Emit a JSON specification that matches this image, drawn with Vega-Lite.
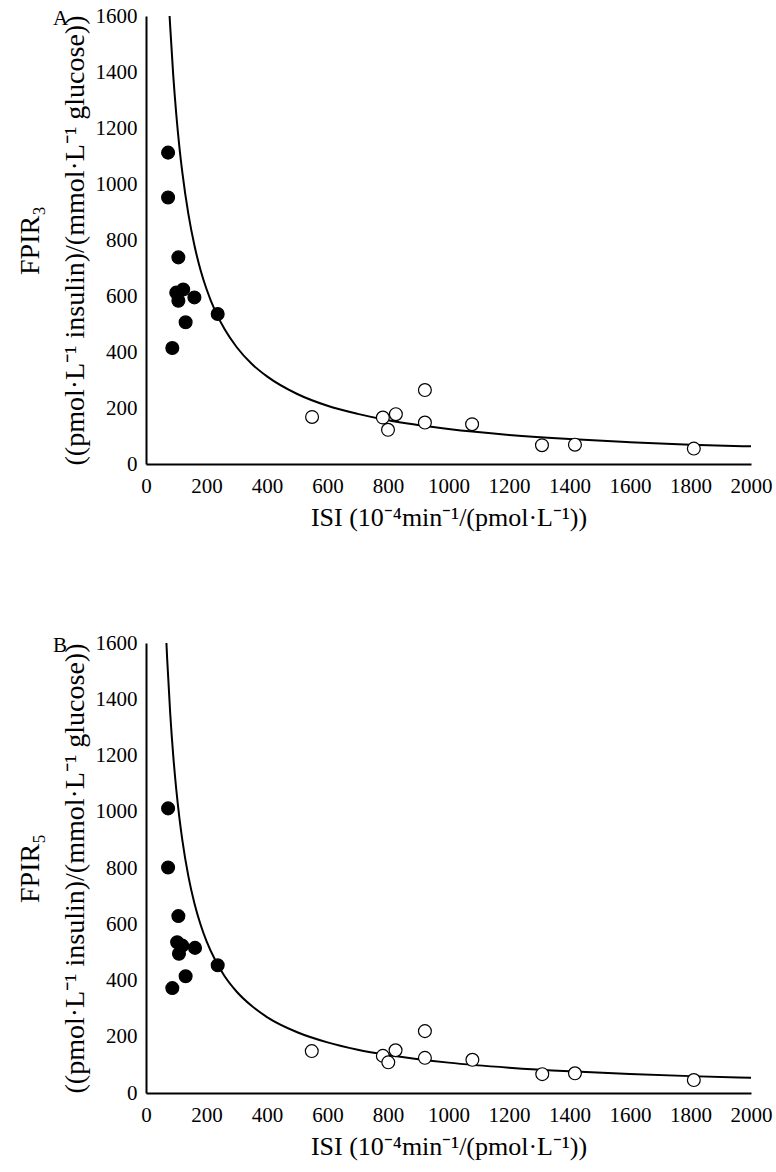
{
  "$schema": "https://vega.github.io/schema/vega-lite/v6.json",
  "background": "white",
  "padding": {"left": 16, "top": 5, "right": 5, "bottom": 5},
  "spacing": 102,
  "config": {
    "font": "Liberation Serif",
    "view": {"stroke": null},
    "axis": {
      "grid": false,
      "ticks": false,
      "tickSize": 0,
      "domainColor": "black",
      "domainWidth": 2,
      "labelColor": "black",
      "labelFontSize": 21,
      "labelFont": "Liberation Serif",
      "labelOverlap": false,
      "labelBound": false,
      "labelFlush": false,
      "format": "d",
      "titleFont": "Liberation Serif",
      "titleFontWeight": "normal",
      "titleColor": "black"
    },
    "title": {"font": "Liberation Serif", "fontSize": 21, "fontWeight": "normal", "color": "black"}
  },
  "datasets": {
    "pts": [
      {"panel": "A", "group": "low", "isi": 73, "fpir": 1112},
      {"panel": "A", "group": "low", "isi": 73, "fpir": 952},
      {"panel": "A", "group": "low", "isi": 107, "fpir": 738},
      {"panel": "A", "group": "low", "isi": 123, "fpir": 623},
      {"panel": "A", "group": "low", "isi": 100, "fpir": 612},
      {"panel": "A", "group": "low", "isi": 107, "fpir": 583},
      {"panel": "A", "group": "low", "isi": 160, "fpir": 595},
      {"panel": "A", "group": "low", "isi": 131, "fpir": 506},
      {"panel": "A", "group": "low", "isi": 87, "fpir": 414},
      {"panel": "A", "group": "low", "isi": 237, "fpir": 536},
      {"panel": "A", "group": "high", "isi": 549, "fpir": 168},
      {"panel": "A", "group": "high", "isi": 783, "fpir": 166},
      {"panel": "A", "group": "high", "isi": 800, "fpir": 122},
      {"panel": "A", "group": "high", "isi": 826, "fpir": 178},
      {"panel": "A", "group": "high", "isi": 922, "fpir": 264},
      {"panel": "A", "group": "high", "isi": 922, "fpir": 148},
      {"panel": "A", "group": "high", "isi": 1078, "fpir": 142},
      {"panel": "A", "group": "high", "isi": 1309, "fpir": 67},
      {"panel": "A", "group": "high", "isi": 1418, "fpir": 69},
      {"panel": "A", "group": "high", "isi": 1811, "fpir": 55},
      {"panel": "B", "group": "low", "isi": 73, "fpir": 1012},
      {"panel": "B", "group": "low", "isi": 73, "fpir": 802},
      {"panel": "B", "group": "low", "isi": 107, "fpir": 629},
      {"panel": "B", "group": "low", "isi": 103, "fpir": 536},
      {"panel": "B", "group": "low", "isi": 120, "fpir": 524},
      {"panel": "B", "group": "low", "isi": 162, "fpir": 516},
      {"panel": "B", "group": "low", "isi": 109, "fpir": 495},
      {"panel": "B", "group": "low", "isi": 131, "fpir": 415},
      {"panel": "B", "group": "low", "isi": 87, "fpir": 373},
      {"panel": "B", "group": "low", "isi": 237, "fpir": 454},
      {"panel": "B", "group": "high", "isi": 548, "fpir": 149},
      {"panel": "B", "group": "high", "isi": 783, "fpir": 132},
      {"panel": "B", "group": "high", "isi": 801, "fpir": 109},
      {"panel": "B", "group": "high", "isi": 825, "fpir": 152},
      {"panel": "B", "group": "high", "isi": 922, "fpir": 220},
      {"panel": "B", "group": "high", "isi": 922, "fpir": 125},
      {"panel": "B", "group": "high", "isi": 1079, "fpir": 118},
      {"panel": "B", "group": "high", "isi": 1310, "fpir": 67},
      {"panel": "B", "group": "high", "isi": 1418, "fpir": 70},
      {"panel": "B", "group": "high", "isi": 1811, "fpir": 46}
    ],
    "fit": [
      {"panel": "A", "isi": 78, "fpir": 1600},
      {"panel": "A", "isi": 80, "fpir": 1562},
      {"panel": "A", "isi": 90, "fpir": 1389},
      {"panel": "A", "isi": 100, "fpir": 1250},
      {"panel": "A", "isi": 110, "fpir": 1136},
      {"panel": "A", "isi": 120, "fpir": 1042},
      {"panel": "A", "isi": 140, "fpir": 893},
      {"panel": "A", "isi": 160, "fpir": 781},
      {"panel": "A", "isi": 180, "fpir": 694},
      {"panel": "A", "isi": 200, "fpir": 625},
      {"panel": "A", "isi": 230, "fpir": 543},
      {"panel": "A", "isi": 260, "fpir": 481},
      {"panel": "A", "isi": 300, "fpir": 417},
      {"panel": "A", "isi": 350, "fpir": 357},
      {"panel": "A", "isi": 400, "fpir": 313},
      {"panel": "A", "isi": 500, "fpir": 250},
      {"panel": "A", "isi": 600, "fpir": 208},
      {"panel": "A", "isi": 700, "fpir": 179},
      {"panel": "A", "isi": 800, "fpir": 156},
      {"panel": "A", "isi": 1000, "fpir": 125},
      {"panel": "A", "isi": 1200, "fpir": 104},
      {"panel": "A", "isi": 1400, "fpir": 89},
      {"panel": "A", "isi": 1600, "fpir": 78},
      {"panel": "A", "isi": 1800, "fpir": 69},
      {"panel": "A", "isi": 2000, "fpir": 63},
      {"panel": "B", "isi": 67.5, "fpir": 1600},
      {"panel": "B", "isi": 70, "fpir": 1543},
      {"panel": "B", "isi": 80, "fpir": 1350},
      {"panel": "B", "isi": 90, "fpir": 1200},
      {"panel": "B", "isi": 100, "fpir": 1080},
      {"panel": "B", "isi": 110, "fpir": 982},
      {"panel": "B", "isi": 120, "fpir": 900},
      {"panel": "B", "isi": 140, "fpir": 771},
      {"panel": "B", "isi": 160, "fpir": 675},
      {"panel": "B", "isi": 180, "fpir": 600},
      {"panel": "B", "isi": 200, "fpir": 540},
      {"panel": "B", "isi": 230, "fpir": 470},
      {"panel": "B", "isi": 260, "fpir": 415},
      {"panel": "B", "isi": 300, "fpir": 360},
      {"panel": "B", "isi": 350, "fpir": 309},
      {"panel": "B", "isi": 400, "fpir": 270},
      {"panel": "B", "isi": 500, "fpir": 216},
      {"panel": "B", "isi": 600, "fpir": 180},
      {"panel": "B", "isi": 700, "fpir": 154},
      {"panel": "B", "isi": 800, "fpir": 135},
      {"panel": "B", "isi": 1000, "fpir": 108},
      {"panel": "B", "isi": 1200, "fpir": 90},
      {"panel": "B", "isi": 1400, "fpir": 77},
      {"panel": "B", "isi": 1600, "fpir": 67.5},
      {"panel": "B", "isi": 1800, "fpir": 60},
      {"panel": "B", "isi": 2000, "fpir": 54}
    ]
  },
  "vconcat": [
    {
      "width": 605,
      "height": 448,
      "title": {"text": "A", "anchor": "start", "frame": "group", "orient": "top", "offset": -24, "dx": -93},
      "layer": [
        {
          "data": {"name": "fit"},
          "transform": [{"filter": "datum.panel === 'A'"}],
          "mark": {"type": "line", "color": "black", "strokeWidth": 2, "interpolate": "monotone"},
          "encoding": {
            "x": {"field": "isi", "type": "quantitative", "scale": {"domain": [0, 2000], "nice": false}, "axis": {"values": [0, 200, 400, 600, 800, 1000, 1200, 1400, 1600, 1800, 2000], "labelPadding": 11, "title": "ISI (10⁻⁴min⁻¹/(pmol·L⁻¹))", "titleFontSize": 26, "titlePadding": 8}},
            "y": {"field": "fpir", "type": "quantitative", "scale": {"domain": [0, 1600], "nice": false}, "axis": {"values": [0, 200, 400, 600, 800, 1000, 1200, 1400, 1600], "labelPadding": 9, "title": ["FPIR₃", "((pmol·L⁻¹ insulin)/(mmol·L⁻¹ glucose))"], "titleFontSize": 28, "titleLineHeight": 45, "titlePadding": 6}}
          }
        },
        {
          "data": {"name": "pts"},
          "transform": [{"filter": "datum.panel === 'A'"}],
          "mark": {"type": "point", "shape": "circle", "filled": true, "size": 165, "stroke": "black", "strokeWidth": 1.2, "opacity": 1},
          "encoding": {
            "x": {"field": "isi", "type": "quantitative"},
            "y": {"field": "fpir", "type": "quantitative"},
            "fill": {"field": "group", "type": "nominal", "scale": {"domain": ["low", "high"], "range": ["black", "white"]}, "legend": null}
          }
        }
      ]
    },
    {
      "width": 605,
      "height": 450,
      "title": {"text": "B", "anchor": "start", "frame": "group", "orient": "top", "offset": -24, "dx": -93},
      "layer": [
        {
          "data": {"name": "fit"},
          "transform": [{"filter": "datum.panel === 'B'"}],
          "mark": {"type": "line", "color": "black", "strokeWidth": 2, "interpolate": "monotone"},
          "encoding": {
            "x": {"field": "isi", "type": "quantitative", "scale": {"domain": [0, 2000], "nice": false}, "axis": {"values": [0, 200, 400, 600, 800, 1000, 1200, 1400, 1600, 1800, 2000], "labelPadding": 11, "title": "ISI (10⁻⁴min⁻¹/(pmol·L⁻¹))", "titleFontSize": 26, "titlePadding": 8}},
            "y": {"field": "fpir", "type": "quantitative", "scale": {"domain": [0, 1600], "nice": false}, "axis": {"values": [0, 200, 400, 600, 800, 1000, 1200, 1400, 1600], "labelPadding": 9, "title": ["FPIR₅", "((pmol·L⁻¹ insulin)/(mmol·L⁻¹ glucose))"], "titleFontSize": 28, "titleLineHeight": 45, "titlePadding": 6}}
          }
        },
        {
          "data": {"name": "pts"},
          "transform": [{"filter": "datum.panel === 'B'"}],
          "mark": {"type": "point", "shape": "circle", "filled": true, "size": 165, "stroke": "black", "strokeWidth": 1.2, "opacity": 1},
          "encoding": {
            "x": {"field": "isi", "type": "quantitative"},
            "y": {"field": "fpir", "type": "quantitative"},
            "fill": {"field": "group", "type": "nominal", "scale": {"domain": ["low", "high"], "range": ["black", "white"]}, "legend": null}
          }
        }
      ]
    }
  ]
}
